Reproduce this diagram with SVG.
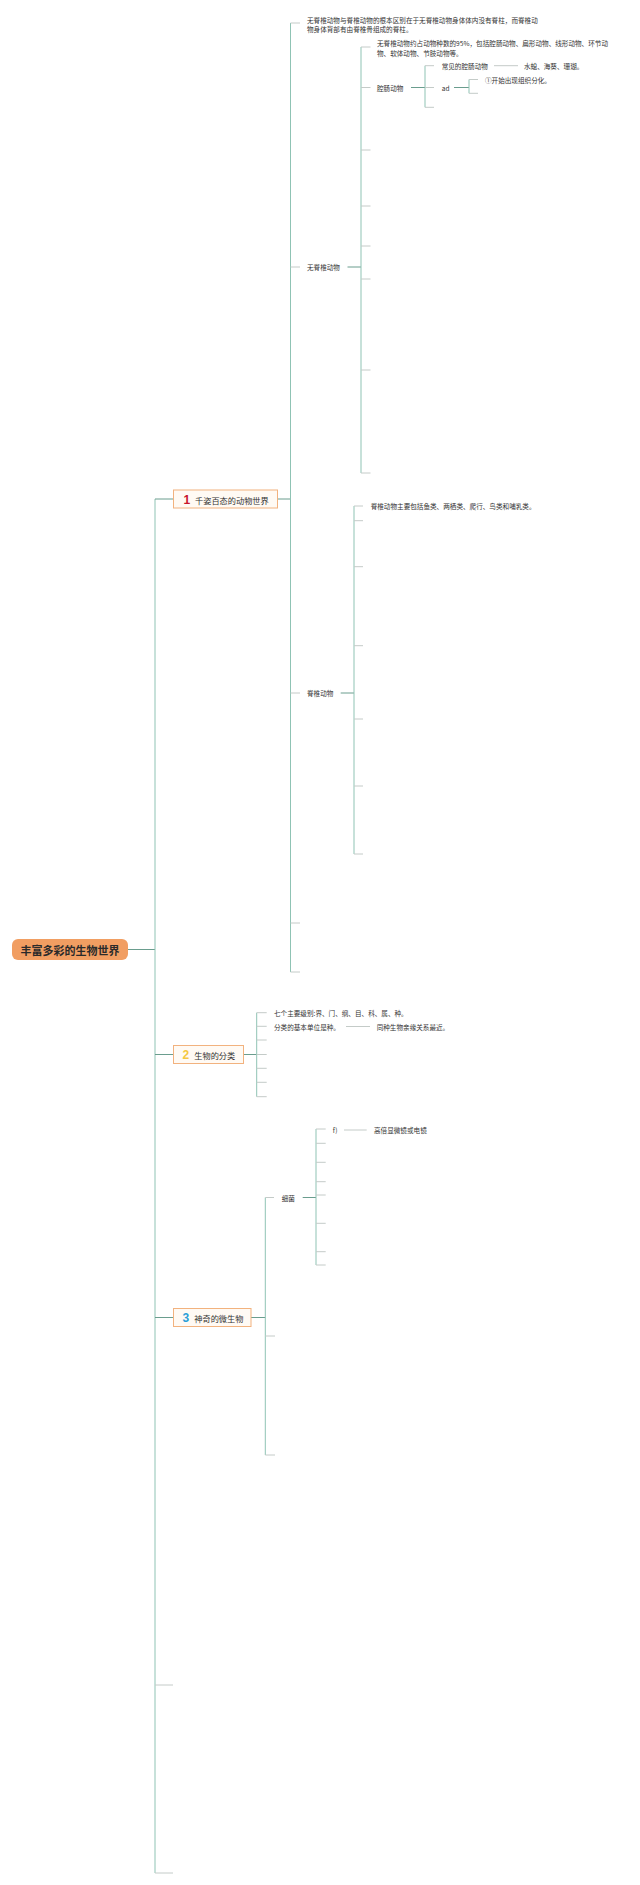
<svg xmlns="http://www.w3.org/2000/svg" width="640" height="1885" viewBox="0 0 640 1885">
<style>
.t{font-family:"Noto Sans CJK SC","Liberation Sans",sans-serif;font-size:6.6px;fill:#333;dominant-baseline:central}
.bt{font-family:"Noto Sans CJK SC","Liberation Sans",sans-serif;font-size:8.2px;fill:#333;dominant-baseline:central}
.num{font-family:"Liberation Sans","Noto Sans CJK SC",sans-serif;font-size:12px;font-weight:bold;dominant-baseline:central}
.root{font-family:"Noto Sans CJK SC","Liberation Sans",sans-serif;font-size:11px;font-weight:bold;fill:#2a2a2a;dominant-baseline:central;text-anchor:middle}
.v{stroke:#8fc3b4;stroke-width:1;fill:none}
.c{stroke:#6a9d8e;stroke-width:1;fill:none}
.k{stroke:#c4cbc8;stroke-width:1;fill:none}
.box{fill:#fffaf4;stroke:#f2b27e;stroke-width:1}
</style>
<rect width="640" height="1885" fill="#ffffff"/>
<g id="connectors">
<!-- root -->
<path class="c" d="M128 949.5H155"/>
<path class="v" d="M155 499V1873"/>
<path class="c" d="M155 499H173.5M155 1054.5H173.5M155 1317.5H173.5"/>
<path class="k" d="M155 1685H173M155 1873H173"/>
<!-- box1 -->
<path class="c" d="M277.5 499H290.5"/>
<path class="v" d="M290.5 23V972"/>
<path class="k" d="M290.5 23H300M290.5 267H300M290.5 693H300M290.5 923H300M290.5 972H300"/>
<!-- invertebrates -->
<path class="c" d="M347.5 267H361"/>
<path class="v" d="M361 47V473"/>
<path class="k" d="M361 47H370.5M361 87.5H370.5M361 150H370.5M361 206H370.5M361 246H370.5M361 279H370.5M361 370H370.5M361 473H370.5"/>
<!-- coelenterates -->
<path class="c" d="M411 87.5H425"/>
<path class="v" d="M425 65.7V107.3"/>
<path class="k" d="M425 65.7H434M425 87.5H434M425 107.3H434"/>
<path class="k" d="M494 65.7H518"/>
<path class="c" d="M454 87.5H469"/>
<path class="v" d="M469 79.5V93.3"/>
<path class="k" d="M469 79.5H478M469 93.3H478"/>
<!-- vertebrates -->
<path class="c" d="M340.7 693H354"/>
<path class="v" d="M354 506V854"/>
<path class="k" d="M354 506H363M354 520.7H363M354 566.7H363M354 645.7H363M354 719H363M354 786H363M354 854H363"/>
<!-- box2 -->
<path class="c" d="M243.5 1054.5H256.7"/>
<path class="v" d="M256.7 1012.7V1096.7"/>
<path class="k" d="M256.7 1012.7H266.7M256.7 1026.3H266.7M256.7 1040H266.7M256.7 1054.5H266.7M256.7 1068.3H266.7M256.7 1082.3H266.7M256.7 1096.7H266.7"/>
<path class="k" d="M346 1026.5H370"/>
<!-- box3 -->
<path class="c" d="M251 1317.5H265.3"/>
<path class="v" d="M265.3 1197.5V1455"/>
<path class="k" d="M265.3 1197.5H274M265.3 1336H275M265.3 1455H275"/>
<!-- bacteria -->
<path class="c" d="M302.7 1197.5H316"/>
<path class="v" d="M316 1129V1265"/>
<path class="k" d="M316 1129H325.7M316 1143.3H325.7M316 1162.3H325.7M316 1181.7H325.7M316 1195H325.7M316 1223.3H325.7M316 1251.7H325.7M316 1265H325.7"/>
<path class="k" d="M344 1130H366.7"/>
</g>
<g id="root">
<rect x="12" y="939" width="116" height="21" rx="6" fill="#f19e62"/>
<text class="root" x="70" y="950">丰富多彩的生物世界</text>
</g>
<g id="topic1">
<rect class="box" x="173.5" y="490" width="104" height="18"/>
<text class="num" x="183.5" y="499.5" fill="#c8162e">1</text>
<text class="bt" x="195" y="499.5">千姿百态的动物世界</text>
</g>
<g id="topic2">
<rect class="box" x="173.5" y="1045.5" width="70" height="18"/>
<text class="num" x="182.5" y="1055" fill="#f5c842">2</text>
<text class="bt" x="194.3" y="1055">生物的分类</text>
</g>
<g id="topic3">
<rect class="box" x="173.5" y="1308.5" width="77.5" height="18"/>
<text class="num" x="182.5" y="1318" fill="#2a9fd8">3</text>
<text class="bt" x="194.3" y="1318">神奇的微生物</text>
</g>
<g id="n-diff">
<text class="t" x="307" y="19.5">无脊椎动物与脊椎动物的根本区别在于无脊椎动物身体体内没有脊柱，而脊椎动</text>
<text class="t" x="307" y="28.7">物身体背部有由脊椎骨组成的脊柱。</text>
</g>
<g id="n-invert"><text class="t" x="307" y="267">无脊椎动物</text></g>
<g id="n-invert-info">
<text class="t" x="377" y="43">无脊椎动物约占动物种数的95%，包括腔肠动物、扁形动物、线形动物、环节动</text>
<text class="t" x="377" y="52.7">物、软体动物、节肢动物等。</text>
</g>
<g id="n-coel"><text class="t" x="377" y="87.5">腔肠动物</text></g>
<g id="n-coel-common"><text class="t" x="441.7" y="65.7">常见的腔肠动物</text></g>
<g id="n-coel-ex"><text class="t" x="524" y="65.7">水螅、海葵、珊瑚。</text></g>
<g id="n-ad"><text class="t" x="441.7" y="87.5">ad</text></g>
<g id="n-ad1"><text class="t" x="485" y="80">①开始出现组织分化。</text></g>
<g id="n-vert"><text class="t" x="307" y="693">脊椎动物</text></g>
<g id="n-vert-info"><text class="t" x="370.7" y="506">脊椎动物主要包括鱼类、两栖类、爬行、鸟类和哺乳类。</text></g>
<g id="n-levels"><text class="t" x="274" y="1012.7">七个主要级别:界、门、纲、目、科、属、种。</text></g>
<g id="n-unit"><text class="t" x="274" y="1026.5">分类的基本单位是种。</text></g>
<g id="n-unit2"><text class="t" x="376.7" y="1026.5">同种生物亲缘关系最近。</text></g>
<g id="n-bact"><text class="t" x="281.7" y="1197.5">细菌</text></g>
<g id="n-f"><text class="t" x="332.7" y="1130">f)</text></g>
<g id="n-scope"><text class="t" x="374" y="1130">高倍显微镜或电镜</text></g>
</svg>
